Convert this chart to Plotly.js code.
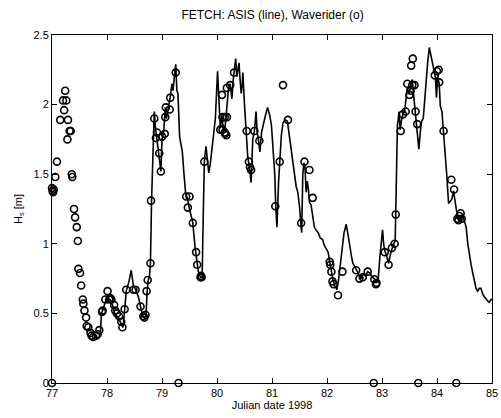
<!DOCTYPE html>
<html><head><meta charset="utf-8">
<script src="https://cdn.plot.ly/plotly-3.0.1.min.js"></script>
<style>html,body{margin:0;padding:0;background:#fff}#plot{width:501px;height:418px}</style>
</head><body><div id="plot"></div>
<script>
// ASIS (line)
const asisDay = [77.88,77.90,77.92,77.96,78.00,78.03,78.06,78.10,78.14,78.18,78.22,78.26,78.29,78.32,78.35,78.40,78.44,78.48,78.52,78.57,78.61,78.65,78.68,78.71,78.73,78.75,78.77,78.79,78.81,78.84,78.86,78.88,78.90,78.92,78.95,78.98,79.00,79.03,79.06,79.08,79.11,79.14,79.16,79.18,79.20,79.22,79.25,79.27,79.29,79.32,79.35,79.37,79.40,79.43,79.46,79.48,79.50,79.53,79.56,79.60,79.63,79.66,79.70,79.73,79.75,79.77,79.80,79.83,79.85,79.88,79.91,79.94,79.97,80.01,80.04,80.06,80.09,80.12,80.15,80.18,80.21,80.24,80.27,80.30,80.32,80.34,80.36,80.38,80.40,80.42,80.44,80.46,80.47,80.50,80.53,80.56,80.59,80.62,80.65,80.68,80.71,80.73,80.75,80.78,80.81,80.84,80.88,80.92,80.96,80.99,81.02,81.05,81.07,81.09,81.12,81.14,81.17,81.20,81.24,81.28,81.32,81.36,81.40,81.44,81.47,81.50,81.53,81.54,81.56,81.58,81.60,81.62,81.64,81.66,81.68,81.71,81.74,81.77,81.80,81.84,81.88,81.92,81.95,81.98,82.02,82.05,82.08,82.11,82.14,82.18,82.21,82.25,82.28,82.31,82.35,82.38,82.41,82.44,82.47,82.50,82.54,82.58,82.62,82.66,82.70,82.74,82.78,82.82,82.86,82.90,82.93,82.96,83.01,83.03,83.05,83.08,83.12,83.15,83.18,83.21,83.24,83.26,83.28,83.31,83.33,83.36,83.38,83.41,83.44,83.46,83.49,83.52,83.55,83.58,83.61,83.64,83.67,83.70,83.72,83.75,83.78,83.80,83.83,83.86,83.89,83.92,83.95,83.97,83.99,84.01,84.04,84.06,84.09,84.12,84.15,84.18,84.21,84.24,84.27,84.30,84.34,84.37,84.40,84.44,84.47,84.50,84.53,84.56,84.59,84.62,84.65,84.68,84.71,84.74,84.77,84.80,84.83,84.86,84.89,84.92,84.95,84.98,85.00];
const asisHs = [0.36,0.50,0.52,0.58,0.62,0.60,0.60,0.56,0.50,0.48,0.46,0.42,0.40,0.52,0.66,0.73,0.81,0.70,0.67,0.62,0.55,0.48,0.47,0.49,0.66,0.74,0.76,0.86,1.31,1.80,1.95,1.84,1.78,1.72,1.65,1.52,1.75,1.80,1.98,1.90,1.96,2.02,2.08,2.15,2.10,2.18,2.29,2.10,2.08,1.77,1.70,1.66,1.50,1.36,1.33,1.30,1.25,1.20,1.15,0.98,0.88,0.80,0.76,0.76,1.20,1.59,1.70,1.55,1.51,1.58,1.70,1.80,1.90,2.24,2.00,1.83,1.92,1.80,1.85,2.00,2.12,2.15,2.04,2.20,2.27,2.33,2.20,2.27,2.30,2.18,2.08,2.15,2.23,2.00,1.80,1.62,1.55,1.44,1.75,1.81,1.95,1.80,1.76,1.66,1.80,1.86,1.92,1.98,1.92,1.85,1.70,1.50,1.25,1.12,1.45,1.60,1.78,1.87,1.89,1.88,1.76,1.64,1.52,1.41,1.37,1.27,1.12,1.08,1.50,1.58,1.55,1.37,1.45,1.40,1.30,1.28,1.20,1.12,1.10,1.08,1.04,1.03,0.99,0.97,0.94,0.87,0.80,0.74,0.70,0.67,0.74,0.86,0.97,1.08,1.14,1.08,1.00,0.92,0.86,0.84,0.81,0.77,0.75,0.78,0.77,0.80,0.79,0.76,0.75,0.72,0.74,0.90,1.10,1.00,0.95,0.92,0.86,0.92,0.97,1.00,1.02,1.40,1.85,1.95,1.82,1.90,1.93,1.95,2.05,2.12,2.08,2.14,2.18,2.05,1.92,1.80,1.68,1.82,1.88,1.90,2.05,2.18,2.30,2.41,2.35,2.31,2.25,2.20,2.05,2.20,2.15,1.99,1.95,1.81,1.68,1.48,1.29,1.31,1.32,1.38,1.26,1.20,1.18,1.18,1.20,1.16,1.12,1.00,0.91,0.85,0.79,0.73,0.68,0.66,0.68,0.68,0.64,0.62,0.60,0.59,0.58,0.60,0.60];
// Waverider (o)
const wrDay = [77.00,77.00,77.01,77.02,77.03,77.06,77.09,77.15,77.20,77.22,77.24,77.26,77.29,77.28,77.32,77.34,77.36,77.37,77.40,77.42,77.45,77.47,77.48,77.51,77.53,77.56,77.57,77.59,77.62,77.63,77.66,77.70,77.72,77.75,77.80,77.83,77.86,77.91,77.92,77.97,78.01,78.04,78.06,78.08,78.13,78.15,78.18,78.22,78.26,78.28,78.32,78.35,78.48,78.52,78.61,78.66,78.68,78.70,78.72,78.74,78.79,78.80,78.86,78.89,78.91,78.95,78.98,79.00,79.05,79.06,79.07,79.14,79.15,79.25,79.30,79.44,79.47,79.50,79.56,79.62,79.64,79.70,79.71,79.72,79.77,80.06,80.09,80.10,80.10,80.14,80.18,80.14,80.15,80.17,80.18,80.24,80.31,80.54,80.58,80.60,80.62,80.68,80.77,81.06,81.14,81.20,81.29,81.53,81.59,81.68,81.74,82.05,82.06,82.08,82.10,82.12,82.20,82.28,82.53,82.59,82.65,82.74,82.85,82.86,82.89,82.90,83.05,83.12,83.18,83.23,83.25,83.34,83.38,83.43,83.46,83.50,83.52,83.53,83.55,83.56,83.59,83.61,83.64,83.66,83.96,84.00,84.03,84.04,84.12,84.26,84.31,84.35,84.37,84.39,84.41,84.43,84.45];
const wrHs = [0.00,1.40,1.38,1.37,1.39,1.48,1.59,1.89,2.03,1.96,2.10,2.03,1.89,1.75,1.81,1.81,1.50,1.48,1.25,1.19,1.12,1.02,0.82,0.79,0.70,0.60,0.57,0.52,0.47,0.41,0.40,0.36,0.34,0.33,0.34,0.35,0.38,0.51,0.52,0.60,0.66,0.60,0.61,0.60,0.56,0.52,0.50,0.48,0.44,0.40,0.53,0.67,0.67,0.67,0.55,0.48,0.47,0.49,0.66,0.74,0.86,1.31,1.90,1.76,1.80,1.65,1.52,1.77,1.79,1.91,1.98,1.965,2.05,2.23,0.00,1.34,1.26,1.34,1.15,0.94,0.85,0.76,0.77,0.76,1.59,1.82,2.07,1.82,1.91,1.91,1.91,1.80,1.79,1.78,2.12,2.14,2.23,1.81,1.59,1.55,1.53,1.81,1.74,1.27,1.59,2.14,1.89,1.15,1.59,1.53,1.33,0.87,0.85,0.80,0.73,0.71,0.63,0.80,0.81,0.75,0.76,0.80,0.00,0.745,0.71,0.72,0.94,0.85,0.97,1.00,1.21,1.81,1.93,1.95,2.15,2.07,2.10,2.28,2.14,2.33,2.14,1.95,1.86,0.00,2.21,2.24,2.25,2.16,1.81,1.46,1.39,0.00,1.18,1.17,1.20,1.22,1.18];
const xTicks = [77,78,79,80,81,82,83,84,85];
const yTicks = [0,0.5,1,1.5,2,2.5];
const yTickText = ['0','0.5','1','1.5','2','2.5'];

const font = {family: 'Liberation Sans, Arial, sans-serif', size: 11, color: '#000'};
const traces = [
  {x: asisDay, y: asisHs, mode: 'lines', line: {color: '#000', width: 1.6}, hoverinfo: 'skip'},
  {x: wrDay, y: wrHs, mode: 'markers', marker: {symbol: 'circle-open', size: 7, color: '#000', line: {width: 1.6, color: '#000'}}, cliponaxis: false}
];
const axisCommon = {showgrid: false, zeroline: false, showline: true, linecolor: '#000', linewidth: 1, mirror: 'ticks', ticks: 'inside', ticklen: 5, tickwidth: 1, tickcolor: '#000', tickfont: font};
const layout = {
  width: 501, height: 418,
  margin: {l: 52, r: 9, t: 35, b: 35},
  paper_bgcolor: '#fff', plot_bgcolor: '#fff',
  showlegend: false,
  font: font,
  title: {text: 'FETCH: ASIS (line), Waverider (o)', font: {family: 'Liberation Sans, Arial, sans-serif', size: 12, color: '#000'}, x: 0.544, xanchor: 'center', y: 0.975, yanchor: 'top'},
  xaxis: Object.assign({}, axisCommon, {range: [77, 85], tickvals: xTicks, ticktext: xTicks.map(String), title: {text: 'Julian date 1998', font: font, standoff: 0}, automargin: false}),
  yaxis: Object.assign({}, axisCommon, {range: [0, 2.5], tickvals: yTicks, ticktext: yTickText, ticklabelstandoff: 0, title: {text: 'H<sub>s</sub> [m]', font: font, standoff: 8}, automargin: false})
};
Plotly.newPlot('plot', traces, layout, {staticPlot: true, displayModeBar: false});
</script></body></html>
